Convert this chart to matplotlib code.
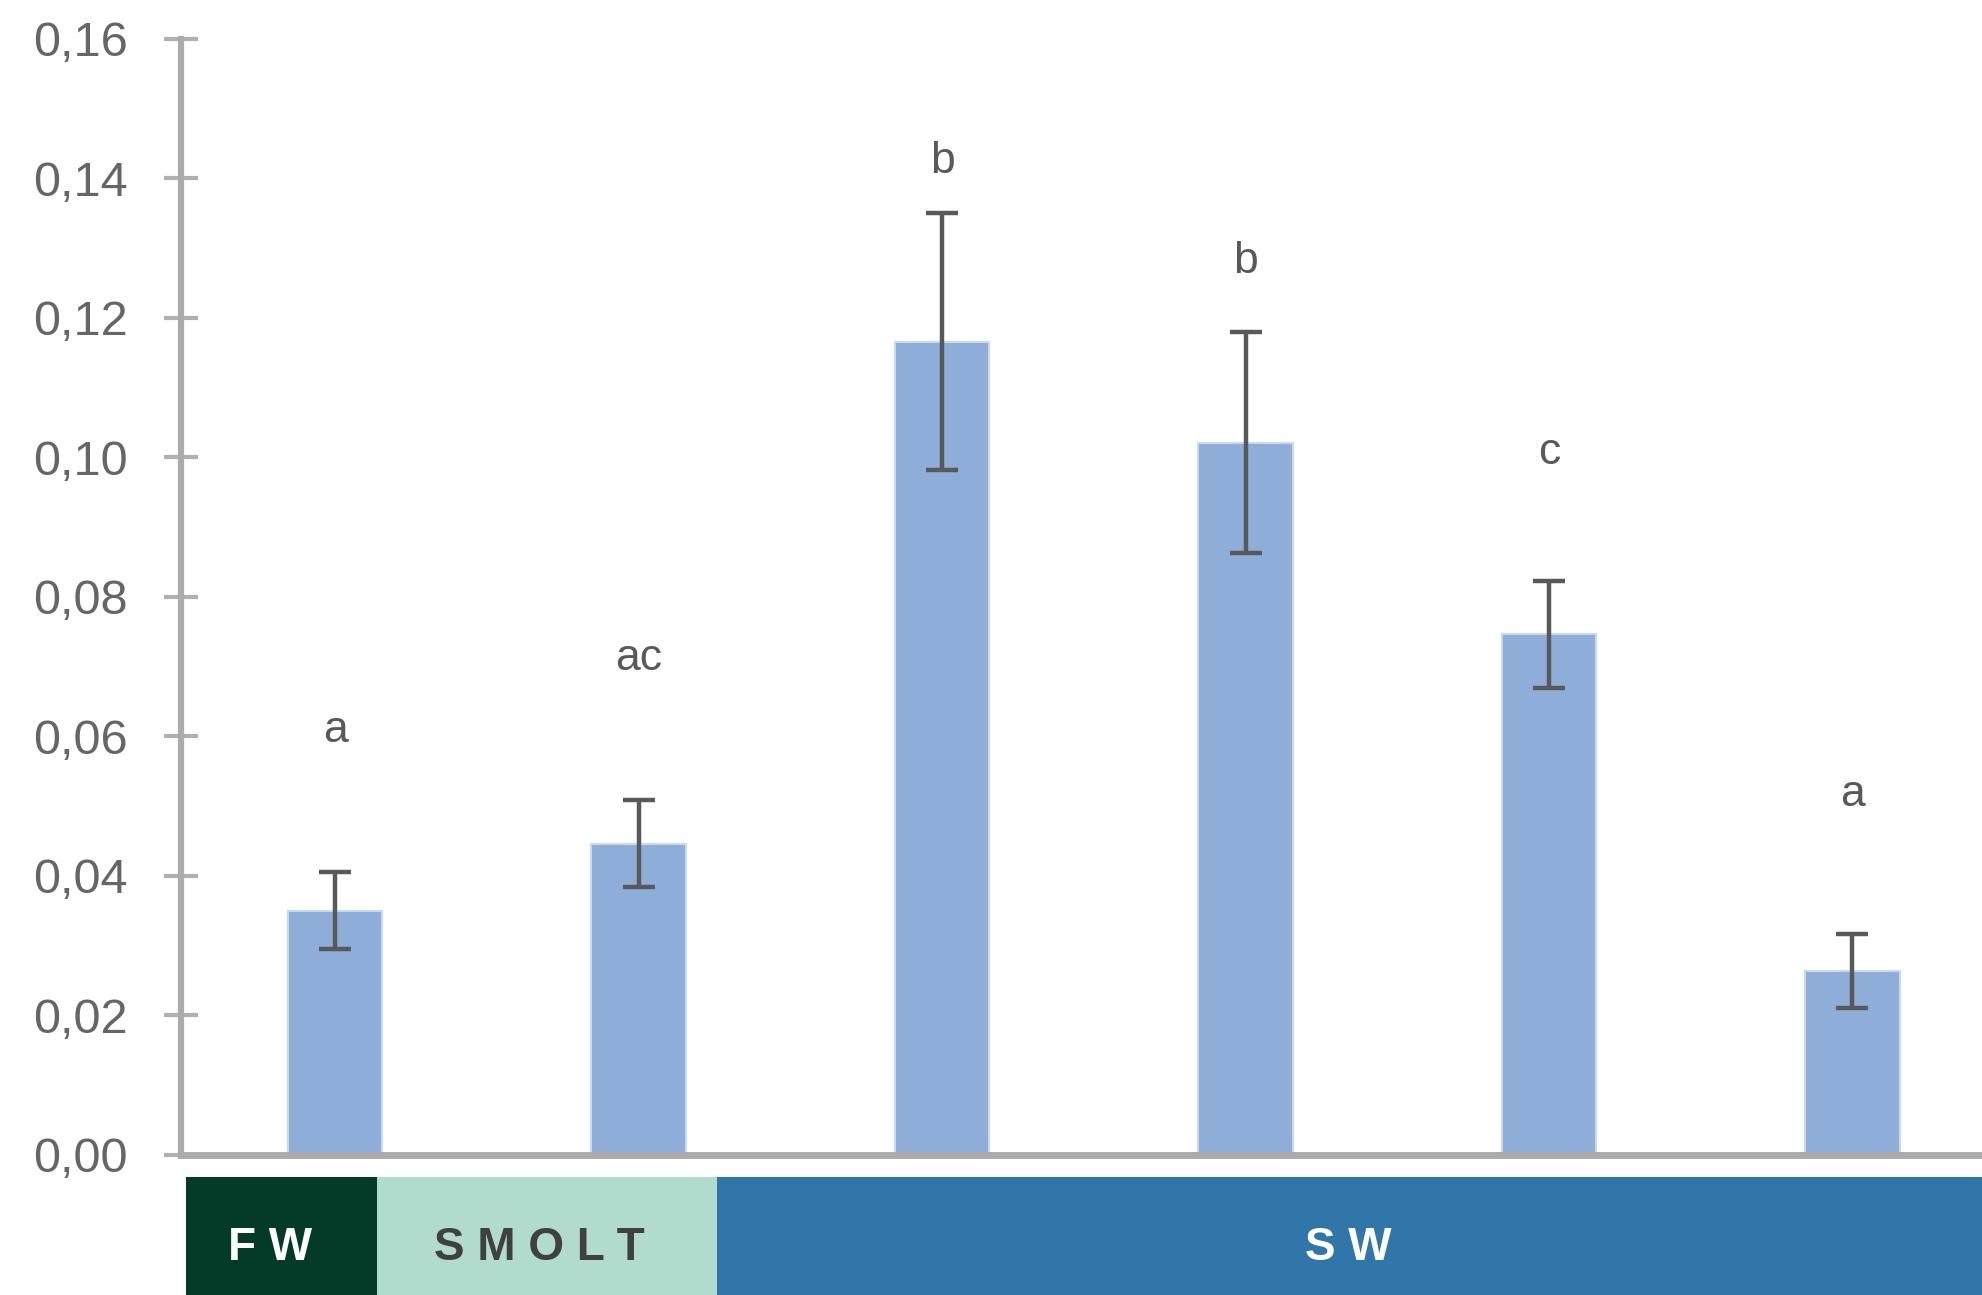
import numpy as np
import matplotlib
matplotlib.use("Agg")
import matplotlib.pyplot as plt
from matplotlib.patches import Rectangle
from matplotlib.ticker import FuncFormatter, MultipleLocator

# mean values per sampling point, with error (+/-) and significance letters
means = [0.0350, 0.0446, 0.1166, 0.1021, 0.0746, 0.0263]
errors = [0.0055, 0.0062, 0.0184, 0.0159, 0.0077, 0.0053]
letters = ["a", "ac", "b", "b", "c", "a"]
letter_y = [0.0608, 0.0711, 0.1424, 0.1281, 0.1007, 0.0517]

# life stage band under the axis
stages = ["F W", "S M O L T", "S W"]
stage_colors = ["#033a28", "#b1dccd", "#3176a8"]
stage_text_colors = ["white", "#404040", "white"]
stage_edges = [0.0938, 0.190, 0.3616, 1.0]
stage_text_x = [0.136, 0.272, 0.680]

plt.rcParams["font.family"] = ["Liberation Sans", "DejaVu Sans"]

fig = plt.figure(figsize=(19.83, 12.95), dpi=100)
ax = fig.add_axes([0.0912, 0.1084, 0.9088, 0.8616])

x = np.arange(len(means))
ax.bar(x, means, width=0.31, color="#8eadd9", edgecolor="#cbd9ee",
       linewidth=1.5, zorder=2)
ax.errorbar(x, means, yerr=errors, fmt="none", ecolor="#595959",
            elinewidth=3.2, capsize=11.5, capthick=3.2, zorder=3)

for xi, lab, ly in zip(x, letters, letter_y):
    ax.text(xi, ly, lab, ha="center", va="center", fontsize=32,
            color="#595959")

ax.set_xlim(-0.508, 5.43)
ax.set_ylim(0, 0.16)
ax.yaxis.set_major_locator(MultipleLocator(0.02))
ax.yaxis.set_major_formatter(FuncFormatter(lambda v, p: f"{v:.2f}".replace(".", ",")))
ax.set_xticks([])

for side in ["top", "right"]:
    ax.spines[side].set_visible(False)
for side in ["left", "bottom"]:
    ax.spines[side].set_color("#ababab")
    ax.spines[side].set_zorder(4)
ax.spines["left"].set_linewidth(4.5)
ax.spines["bottom"].set_linewidth(5)

ax.tick_params(axis="y", direction="inout", length=24, width=3,
               color="#b0b0b0", labelsize=35, labelcolor="#666666", pad=26)

# stage band
for i, (name, col, tcol) in enumerate(zip(stages, stage_colors, stage_text_colors)):
    x0, x1 = stage_edges[i], stage_edges[i + 1]
    fig.add_artist(Rectangle((x0, 0), x1 - x0, 0.0908, transform=fig.transFigure,
                             facecolor=col, edgecolor="none"))
    fig.text(stage_text_x[i], 0.0365, name, ha="center", va="center",
             fontsize=33, fontweight="bold", color=tcol)

fig.savefig("out.png", dpi=100)
